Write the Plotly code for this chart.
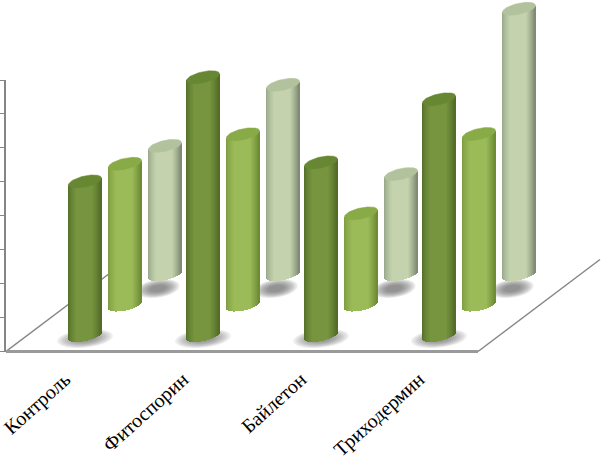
import numpy as np
import plotly.graph_objects as go

categories = ["Контроль", "Фитоспорин", "Байлетон", "Триходермин"]
series_front = [4.54, 7.61, 5.10, 6.96]
series_middle = [4.16, 5.03, 2.70, 5.04]
series_back = [3.79, 5.59, 2.96, 7.83]
value_ticks = list(range(0, 9))

W, H = 602, 462
AX_L, AX_R, Y0_PX, Y8_PX = 6, 478, 351.5, 80
PLOT_BOTTOM_PX = 359
PX_X = (AX_R - AX_L) / 4
PX_Y = (Y0_PX - Y8_PX) / 8
GRAY = "#868686"

ROW_DX, ROW_DY = 40, 30.5
FIRST_DX, FIRST_DY = 20, 16
r_px, a_px, b_px = 14.2, 8.6, 6.5
R_px = (r_px**2 + a_px**2) ** 0.5

rows = [
    dict(vals=series_front, edgeL="#526c27", mid="#76953e", edgeR="#506726", cap="#678733",
         shadow=dict(dx=0, dy=-3, w=31, h=9.5, alpha=0.11)),
    dict(vals=series_middle, edgeL="#7a9a3e", mid="#9bbb59", edgeR="#688630", cap="#88aa47", shadow=None),
    dict(vals=series_back, edgeL="#94a386", mid="#c4d3ae", edgeR="#77836c", cap="#b1c29c",
         shadow=dict(dx=-7, dy=-14, w=24, h=9.5, alpha=0.12)),
]


def hex2rgb(c):
    return np.array([int(c[i:i + 2], 16) for i in (1, 3, 5)], float)


def strip_color(t, row):
    left, mid, right = hex2rgb(row["edgeL"]), hex2rgb(row["mid"]), hex2rgb(row["edgeR"])
    if t < 0:
        f = min(1, (t + 1) / 0.5)
        c = left + (mid - left) * f**0.7
    else:
        f = min(1, (1 - t) / 0.55)
        c = right + (mid - right) * f**0.8
    return "rgb(%d,%d,%d)" % tuple(c)


def ellipse_poly(n=80, r=r_px, a=a_px, b=b_px):
    th = np.linspace(0, 2 * np.pi, n)
    return r * np.cos(th) + a * np.sin(th), b * np.sin(th)


def curves(X):
    A = a_px**2 / r_px**2 + 1
    B = a_px * X / r_px**2
    C = X**2 / r_px**2 - 1
    root = np.sqrt(np.maximum(B**2 - A * C, 0))
    return b_px * (B - root) / A, b_px * (B + root) / A


fig = go.Figure()
shapes = []

# floor lines
back_dx, back_dy = 122 / PX_X, 92 / PX_Y
shapes.append(dict(type="line", layer="below", xref="x", yref="y", x0=-0.5, y0=0,
                   x1=-0.5 + back_dx, y1=back_dy, line=dict(color=GRAY, width=1.5)))
shapes.append(dict(type="line", layer="below", xref="x", yref="y", x0=-0.5, y0=0, x1=3.5, y1=0,
                   line=dict(color="#9a9a9a", width=3)))
shapes.append(dict(type="line", layer="below", xref="x", yref="y", x0=3.5, y0=0,
                   x1=3.5 + back_dx, y1=back_dy, line=dict(color=GRAY, width=1.5)))

# real value axis, drawn on its own short domain
fig.add_trace(go.Scatter(x=[-0.5, -0.5], y=[value_ticks[0], value_ticks[-1]], yaxis="y2", mode="lines",
                         line=dict(width=0), hoverinfo="skip", showlegend=False))

offs = np.arange(-16, 17)
body_low, body_up = curves(offs.astype(float))
body_midline = (body_low + body_up) / 2

for i, row in enumerate(rows):
    cat_off = (FIRST_DX + ROW_DX * i) / PX_X
    base_y = (FIRST_DY + ROW_DY * i) / PX_Y
    for c, v in enumerate(row["vals"]):
        cx = c + cat_off
        s = row["shadow"]
        if s:
            for k in range(8):
                scale = 1 - k * 0.09
                ex, ey = ellipse_poly(40, s["w"] * 0.86 * scale, s["w"] * 0.25 * scale, s["h"] * scale)
                xs = cx + (ex + s["dx"]) / PX_X
                ys = base_y + (ey + s["dy"]) / PX_Y
                path = "M " + " L ".join(f"{a:.4f},{b:.4f}" for a, b in zip(xs, ys)) + " Z"
                shapes.append(dict(type="path", layer="below", xref="x", yref="y", path=path,
                                   fillcolor=f"rgba(90,90,90,{s['alpha']})", line=dict(width=0)))
        bottoms = base_y + body_low / PX_Y
        tops = base_y + v + body_midline / PX_Y
        fig.add_trace(go.Bar(
            x=cx + offs / PX_X, y=tops - bottoms, base=bottoms, width=1.0 / PX_X,
            marker=dict(color=[strip_color(o / R_px, row) for o in offs], line=dict(width=0)),
            hoverinfo="skip", showlegend=False))
        ex, ey = ellipse_poly()
        fig.add_trace(go.Scatter(
            x=cx + ex / PX_X, y=base_y + v + ey / PX_Y, mode="lines", fill="toself",
            fillcolor=row["cap"], line=dict(color=row["cap"], width=0.5),
            hoverinfo="skip", showlegend=False))

fig.update_layout(
    width=W, height=H, margin=dict(l=0, r=0, t=0, b=0, autoexpand=False),
    paper_bgcolor="white", plot_bgcolor="rgba(0,0,0,0)", barmode="overlay", bargap=0,
    showlegend=False, shapes=shapes,
    xaxis=dict(domain=[AX_L / W, 1], range=[-0.5, -0.5 + (W - AX_L) / PX_X], tickmode="array",
               tickvals=list(range(len(categories))), ticktext=categories, tickangle=-42,
               showgrid=False, zeroline=False, showline=False, ticks="", automargin=False,
               ticklabeloverflow="allow",
               tickfont=dict(family="Liberation Serif", size=20, color="black"), ticklabelstandoff=4),
    yaxis=dict(domain=[(H - PLOT_BOTTOM_PX) / H, 1],
               range=[(Y0_PX - PLOT_BOTTOM_PX) / PX_Y, Y0_PX / PX_Y],
               showticklabels=False, ticks="", showline=False, showgrid=False, zeroline=False,
               automargin=False),
    yaxis2=dict(domain=[(H - Y0_PX) / H, (H - Y8_PX) / H], range=[0, 8], anchor="x", tickmode="array",
                tickvals=value_ticks, showticklabels=False, ticks="outside", ticklen=6, tickwidth=1,
                tickcolor=GRAY, showline=True, linecolor=GRAY, linewidth=1.5, showgrid=False,
                zeroline=False, automargin=False),
)

fig.write_html("out.html", config=dict(displayModeBar=False),
               post_script="document.body.style.margin='0';document.body.style.overflow='hidden';")
